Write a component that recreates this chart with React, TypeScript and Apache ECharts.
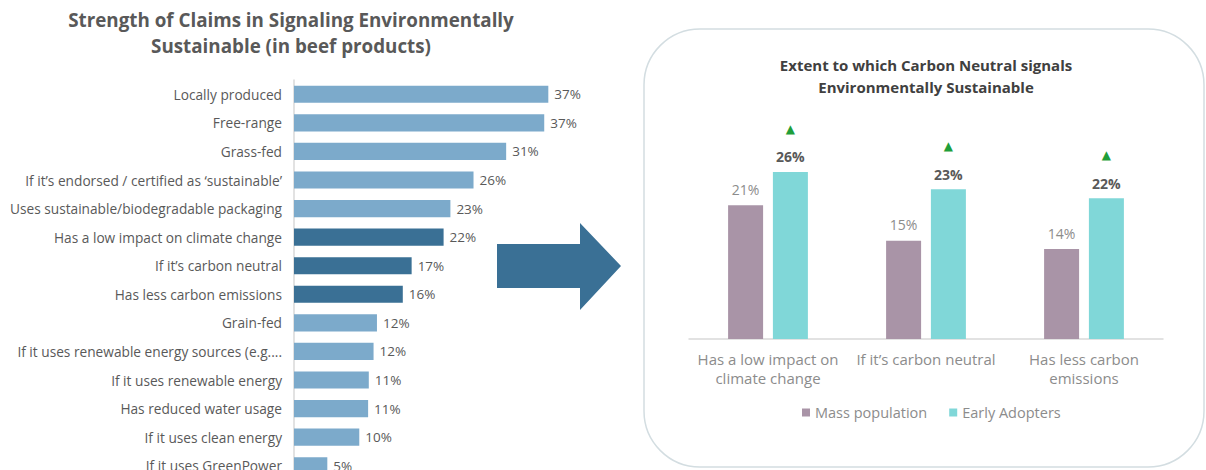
import React, { useRef, useEffect } from "react";
import * as echarts from "echarts";

// left chart: claims ranked by strength
const claims = [
  "Locally produced",
  "Free-range",
  "Grass-fed",
  "If it’s endorsed / certified as ‘sustainable’",
  "Uses sustainable/biodegradable packaging",
  "Has a low impact on climate change",
  "If it’s carbon neutral",
  "Has less carbon emissions",
  "Grain-fed",
  "If it uses renewable energy sources (e.g....",
  "If it uses renewable energy",
  "Has reduced water usage",
  "If it uses clean energy",
  "If it uses GreenPower",
];
const claimValues = [37.4, 36.8, 31.2, 26.4, 23.0, 22.0, 17.3, 16.0, 12.2, 11.7, 11.0, 10.9, 9.6, 4.9];
const highlightedClaims = [
  "Has a low impact on climate change",
  "If it’s carbon neutral",
  "Has less carbon emissions",
];

// right chart: carbon neutral comparison
const groups = ["Has a low impact on\nclimate change", "If it’s carbon neutral", "Has less carbon\nemissions"];
const massPopulation = [20.8, 15.3, 14.0];
const earlyAdopters = [26.0, 23.3, 21.9];

const FONT = "Open Sans";
const pct = (p: any) => Math.round(p.value) + "%";

const App = () => {
  const chartRef = useRef<HTMLDivElement>(null);

  useEffect(() => {
    if (!chartRef.current) return;
    const chart = echarts.init(chartRef.current, null, { renderer: "svg" });

    chart.setOption({
      animation: false,
      textStyle: { fontFamily: FONT },
      graphic: [
        {
          type: "rect",
          shape: { x: 644, y: 29, width: 560, height: 438, r: 56 },
          style: { fill: "none", stroke: "#d3dde1", lineWidth: 1.5 },
          z: -1,
        },
        {
          type: "polygon",
          shape: {
            points: [
              [497, 244],
              [580, 244],
              [580, 223],
              [621, 266],
              [580, 310],
              [580, 288],
              [497, 288],
            ],
          },
          style: { fill: "#3a7095" },
        },
        {
          type: "text",
          x: 291,
          y: 33,
          style: {
            text: "Strength of Claims in Signaling Environmentally\nSustainable (in beef products)",
            align: "center",
            verticalAlign: "middle",
            fontFamily: FONT,
            fontSize: 18.8,
            fontWeight: "bold",
            lineHeight: 26,
            fill: "#595959",
          },
        },
        {
          type: "text",
          x: 926,
          y: 76,
          style: {
            text: "Extent to which Carbon Neutral signals\nEnvironmentally Sustainable",
            align: "center",
            verticalAlign: "middle",
            fontFamily: FONT,
            fontSize: 15,
            fontWeight: "bold",
            lineHeight: 22,
            fill: "#404040",
          },
        },
      ],
      legend: {
        left: 797,
        top: 400,
        itemWidth: 8,
        itemHeight: 8,
        itemGap: 22,
        icon: "rect",
        textStyle: { color: "#8c8c8c", fontSize: 14.5, fontFamily: FONT },
        data: ["Mass population", "Early Adopters"],
      },
      grid: [
        { left: 294, top: 80, width: 272, height: 400 },
        { left: 689, top: 82, width: 474, height: 257 },
      ],
      xAxis: [
        { type: "value", gridIndex: 0, min: 0, max: 40, show: false },
        {
          type: "category",
          gridIndex: 1,
          data: groups,
          axisLine: { lineStyle: { color: "#d9d9d9", width: 1.5 } },
          axisTick: { show: false },
          axisLabel: {
            color: "#8c8c8c",
            fontSize: 15,
            lineHeight: 19,
            margin: 10,
            fontFamily: FONT,
            interval: 0,
          },
        },
      ],
      yAxis: [
        {
          type: "category",
          gridIndex: 0,
          inverse: true,
          data: claims,
          axisLine: { lineStyle: { color: "#d9d9d9", width: 1.5 } },
          axisTick: { show: false },
          axisLabel: { color: "#595959", fontSize: 13.7, margin: 12, fontFamily: FONT, interval: 0 },
        },
        { type: "value", gridIndex: 1, min: 0, max: 40, show: false },
      ],
      series: [
        {
          type: "bar",
          xAxisIndex: 0,
          yAxisIndex: 0,
          barCategoryGap: "40%",
          data: claims.map((c, i) => ({
            value: claimValues[i],
            itemStyle: { color: highlightedClaims.includes(c) ? "#3a7095" : "#7caacb" },
          })),
          label: {
            show: true,
            position: "right",
            distance: 6,
            color: "#595959",
            fontSize: 13.5,
            fontFamily: FONT,
            formatter: pct,
          },
        },
        {
          name: "Mass population",
          type: "bar",
          xAxisIndex: 1,
          yAxisIndex: 1,
          barWidth: 35,
          barGap: "28%",
          itemStyle: { color: "#a994a7" },
          data: massPopulation,
          label: {
            show: true,
            position: "top",
            distance: 9,
            color: "#8c8c8c",
            fontSize: 14,
            fontFamily: FONT,
            formatter: pct,
          },
        },
        {
          name: "Early Adopters",
          type: "bar",
          xAxisIndex: 1,
          yAxisIndex: 1,
          barWidth: 35,
          itemStyle: { color: "#80d7d8" },
          data: earlyAdopters,
          label: {
            show: true,
            position: "top",
            distance: 7,
            formatter: (p: any) => "{t|▲}\n{v|" + Math.round(p.value) + "%}",
            rich: {
              t: { color: "#1f9e3a", fontSize: 12, lineHeight: 40, fontFamily: "DejaVu Sans" },
              v: { color: "#595959", fontSize: 14, fontWeight: "bold", lineHeight: 16, fontFamily: FONT },
            },
          },
        },
      ],
    });

    return () => chart.dispose();
  }, []);

  return (
    <div style={{ position: "absolute", left: 0, top: 0, width: 1206, height: 470, overflow: "hidden", background: "#fff" }}>
      <div ref={chartRef} style={{ width: 1206, height: 500 }} />
    </div>
  );
};

export default App;
